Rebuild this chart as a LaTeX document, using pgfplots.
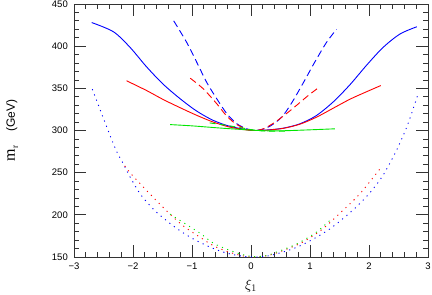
\documentclass[border=0pt]{standalone}
\usepackage{fontspec}
\setmainfont{Liberation Sans}
\newfontfamily\seriffont{Liberation Serif}
\usepackage{pgfplots}
\pgfplotsset{compat=1.18}
\definecolor{cb}{RGB}{0,0,255}
\definecolor{cr}{RGB}{255,0,0}
\definecolor{cg}{RGB}{0,230,0}
\begin{document}
\begin{tikzpicture}
\begin{axis}[
  scale only axis, width=354pt, height=253pt,
  xmin=-3, xmax=3, ymin=150, ymax=450,
  xtick={-3,-2,-1,0,1,2,3},
  xticklabels={−3,−2,−1,0,1,2,3},
  ytick={150,200,250,300,350,400,450},
  yticklabels={150,200,250,300,350,400,450},
  minor x tick num=4, minor y tick num=4,
  tick align=inside,
  major tick length=12pt, minor tick length=5pt,
  every tick/.style={black!80, line width=0.8pt},
  axis line style={black!80, line width=0.8pt},
  ticklabel style={font=\fontsize{9.5}{10}\selectfont},
  yticklabel style={inner sep=0pt, xshift=-6pt},
  xticklabel style={inner sep=0pt, yshift=-6pt},
  xlabel={$\xi_1$},
  xlabel style={at={(axis description cs:0.5,-0.1146)}, anchor=center, font=\fontsize{14}{14}\selectfont},
  ylabel={{\seriffont\fontsize{16}{16}\selectfont m}{\raisebox{-3pt}{\seriffont\fontsize{9}{9}\selectfont r}}\hspace{14pt}{\fontsize{12}{12}\selectfont (GeV)}},
  ylabel style={at={(axis description cs:-0.1751,0.5)}, anchor=center},
  every axis plot/.append style={line width=0.9pt},
]
% blue solid
\addplot[cb, smooth] coordinates {(-2.70,428) (-2.33,417) (-2.05,398.6) (-1.77,375.5) (-1.49,355) (-1.20,337.6) (-0.92,323) (-0.64,312) (-0.36,305) (-0.07,301) (0.05,300) (0.27,300.6) (0.55,302.8) (0.83,308) (1.11,317.8) (1.395,334) (1.68,354.5) (1.96,377.5) (2.24,398.6) (2.525,414.4) (2.81,423)};
% red solid
\addplot[cr, smooth] coordinates {(-2.11,359) (-1.77,347.4) (-1.49,336.8) (-1.20,327) (-0.92,318) (-0.64,310) (-0.36,304) (-0.07,300.6) (0.05,300) (0.27,300.4) (0.55,302.6) (0.83,307.5) (1.11,315.8) (1.395,326.5) (1.68,337.2) (1.96,346) (2.20,353.3)};
% blue dashed
\addplot[cb, smooth, dash pattern=on 7pt off 4pt] coordinates {(-1.31,430) (-1.09,404.5) (-0.92,381) (-0.75,357) (-0.58,337.6) (-0.41,320) (-0.24,308) (-0.07,302) (0.05,300) (0.17,301) (0.32,305) (0.52,315.8) (0.69,332.8) (0.89,357) (1.08,381) (1.28,404.5) (1.45,420)};
% red dashed
\addplot[cr, smooth, dash pattern=on 7pt off 4pt] coordinates {(-1.03,362) (-0.81,349.5) (-0.58,331.7) (-0.41,317) (-0.24,307) (-0.07,301.5) (0.05,300) (0.21,302) (0.41,310) (0.60,320) (0.77,329.7) (0.97,341.5) (1.13,350)};
% green solid
\addplot[cg, smooth] coordinates {(-1.37,307) (-1.0,305.5) (-0.5,302.8) (0,300.5) (0.3,299.6) (0.6,299.8) (1.0,300.8) (1.42,302)};
% green dashed
\addplot[cg, smooth, dash pattern=on 6pt off 4pt] coordinates {(-0.70,309) (-0.45,306.5) (-0.15,303) (0.05,300.5) (0.25,299.3) (0.5,299.2) (0.62,299.5)};
% blue dotted
\addplot[cb, smooth, dash pattern=on 1.1pt off 4.5pt] coordinates {(-2.69,349) (-2.32,282) (-2.19,264) (-2.05,245) (-1.88,225) (-1.66,207) (-1.43,193) (-1.20,181) (-0.98,171.5) (-0.72,162.5) (-0.5,156.5) (-0.3,152.8) (-0.1,150.6) (0.1,150) (0.3,151.5) (0.5,155) (0.7,159.5) (0.87,164.5) (1.10,173) (1.33,183) (1.55,195) (1.78,209) (2.0,225) (2.23,246) (2.46,275.6) (2.65,306) (2.84,345)};
% red dotted
\addplot[cr, smooth, dash pattern=on 1.1pt off 4.5pt] coordinates {(-2.14,258) (-2.0,246) (-1.71,224.5) (-1.43,204.7) (-1.15,187) (-0.86,173.3) (-0.64,163.5) (-0.4,156.5) (-0.15,151.5) (0.05,150) (0.3,152) (0.54,157.5) (0.87,167.4) (1.21,183) (1.55,204.7) (1.84,224.5) (2.09,246) (2.18,254)};
% green dotted
\addplot[cg, smooth, dash pattern=on 1.1pt off 4.5pt] coordinates {(-1.37,200.8) (-1.15,191) (-0.86,178) (-0.64,166.5) (-0.4,159) (-0.15,153) (0.05,150.5) (0.25,151.5) (0.42,155.5) (0.76,165) (1.10,179) (1.36,195)};
\end{axis}
\pgfresetboundingbox
\path[use as bounding box] ([shift={(-74pt,-37pt)}]current axis.south west) rectangle ([shift={(4pt,4pt)}]current axis.north east);
\end{tikzpicture}
\end{document}
